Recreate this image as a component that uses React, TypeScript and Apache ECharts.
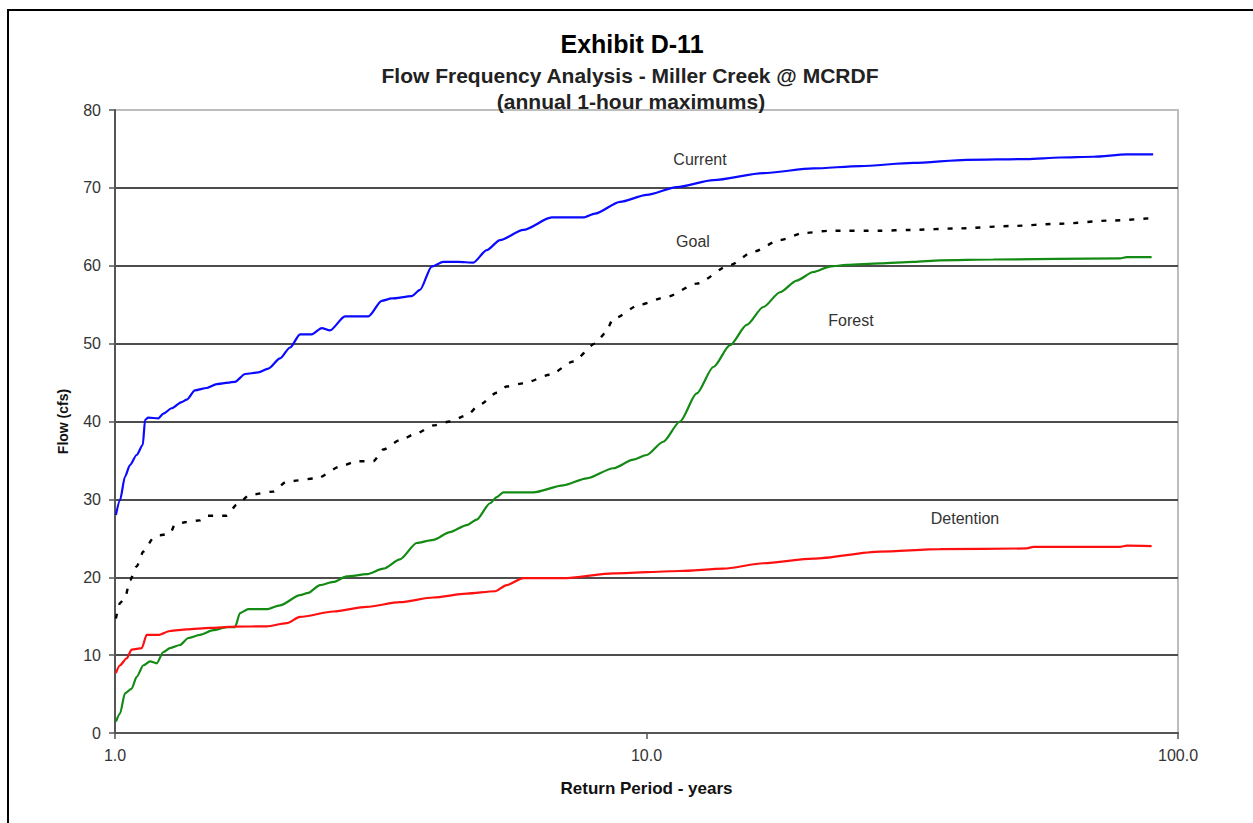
import React, { useEffect, useRef } from "react";
import * as echarts from "echarts";

// Return period (years), flow (cfs)
const currentData: [number, number][] = [
  [1.004, 28.0], [1.022, 29.9], [1.044, 32.9], [1.067, 34.4], [1.098, 35.7], [1.128, 37.0],
  [1.139, 40.2], [1.155, 40.5], [1.206, 40.4], [1.233, 41.0], [1.278, 41.7], [1.335, 42.5],
  [1.364, 42.8], [1.414, 44.0], [1.488, 44.3], [1.554, 44.8], [1.682, 45.1], [1.757, 46.1],
  [1.861, 46.3], [1.943, 46.8], [2.044, 48.1], [2.135, 49.5], [2.229, 51.2], [2.345, 51.2],
  [2.449, 52.0], [2.538, 51.7], [2.708, 53.5], [2.997, 53.5], [3.176, 55.5], [3.316, 55.8],
  [3.616, 56.1], [3.748, 56.9], [3.943, 59.9], [4.146, 60.5], [4.425, 60.5], [4.722, 60.4],
  [5.004, 62.0], [5.301, 63.3], [5.866, 64.6], [6.632, 66.2], [7.075, 66.2], [7.605, 66.2],
  [8.0, 66.7], [8.916, 68.2], [10.01, 69.1], [11.4, 70.1], [13.36, 71.0], [16.59, 71.9],
  [20.6, 72.5], [25.22, 72.8], [31.76, 73.2], [40.04, 73.6], [51.92, 73.7], [59.98, 73.9],
  [69.29, 74.0], [80.08, 74.3], [89.8, 74.3],
];

const goalData: [number, number][] = [
  [1.004, 14.7], [1.022, 16.7], [1.044, 17.3], [1.067, 19.6], [1.098, 21.4], [1.131, 23.3],
  [1.18, 25.0], [1.215, 25.4], [1.269, 25.6], [1.297, 26.8], [1.364, 27.1], [1.445, 27.3],
  [1.488, 27.9], [1.622, 27.9], [1.694, 29.3], [1.795, 30.6], [1.986, 31.0], [2.104, 32.3],
  [2.396, 32.7], [2.651, 34.2], [2.849, 34.9], [3.062, 34.9], [3.197, 36.4], [3.437, 37.6],
  [3.695, 38.5], [3.97, 39.5], [4.268, 40.0], [4.589, 40.8], [4.861, 42.2], [5.226, 43.7],
  [5.457, 44.5], [5.866, 44.9], [6.582, 46.0], [7.281, 47.7], [8.0, 50.0], [8.355, 51.3],
  [8.662, 53.2], [9.723, 55.0], [10.91, 56.0], [12.43, 57.7], [14.36, 60.1], [15.88, 61.8],
  [17.83, 63.3], [19.73, 64.2], [22.14, 64.5], [27.5, 64.5], [31.31, 64.6], [38.89, 64.8],
  [48.31, 65.1], [59.98, 65.4], [74.48, 65.8], [88.6, 66.1],
];

const forestData: [number, number][] = [
  [1.004, 1.45], [1.022, 2.5], [1.044, 5.1], [1.075, 5.7], [1.098, 7.2], [1.131, 8.7],
  [1.164, 9.2], [1.198, 8.95], [1.233, 10.4], [1.269, 10.9], [1.325, 11.3], [1.374, 12.2],
  [1.445, 12.6], [1.531, 13.2], [1.622, 13.6], [1.682, 13.6], [1.719, 15.4], [1.781, 15.9],
  [1.929, 15.9], [2.044, 16.4], [2.229, 17.7], [2.31, 18.0], [2.431, 19.0], [2.575, 19.4],
  [2.729, 20.1], [2.976, 20.4], [3.197, 21.1], [3.437, 22.3], [3.695, 24.4], [3.97, 24.8],
  [4.268, 25.8], [4.589, 26.7], [4.792, 27.4], [5.077, 29.5], [5.226, 30.3], [5.377, 30.9],
  [6.125, 30.9], [6.973, 31.8], [7.716, 32.7], [8.662, 34.0], [9.446, 35.1], [10.01, 35.7],
  [10.75, 37.4], [11.56, 40.0], [12.43, 43.6], [13.36, 47.0], [14.36, 49.8], [15.44, 52.4],
  [16.59, 54.7], [17.83, 56.6], [19.17, 58.1], [20.6, 59.2], [22.14, 59.9], [23.8, 60.1],
  [27.5, 60.3], [31.76, 60.5], [35.67, 60.7], [44.93, 60.8], [77.77, 60.95], [80.08, 61.1],
  [89.2, 61.1],
];

const detentionData: [number, number][] = [
  [1.004, 7.7], [1.022, 8.7], [1.052, 9.6], [1.075, 10.7], [1.123, 10.9], [1.147, 12.6],
  [1.206, 12.6], [1.269, 13.1], [1.364, 13.3], [1.509, 13.5], [1.67, 13.65], [1.929, 13.7],
  [2.104, 14.1], [2.229, 14.9], [2.575, 15.6], [2.976, 16.2], [3.437, 16.8], [3.97, 17.4],
  [4.589, 17.9], [5.188, 18.2], [5.457, 19.0], [5.866, 19.9], [7.075, 19.9], [8.662, 20.5],
  [11.56, 20.8], [13.95, 21.1], [16.59, 21.8], [20.6, 22.4], [27.5, 23.3], [35.67, 23.6],
  [51.92, 23.7], [53.43, 23.9], [77.77, 23.9], [80.08, 24.05], [89.2, 24.0],
];

const titleText = "Exhibit D-11";
const subtitle1 = "Flow Frequency Analysis - Miller Creek @ MCRDF";
const subtitle2 = "(annual 1-hour maximums)";
const xAxisName = "Return Period - years";
const yAxisName = "Flow (cfs)";
const curveLabels = ["Current", "Goal", "Forest", "Detention"];

const FONT = "Arial, 'Liberation Sans', Helvetica, sans-serif";

export default function App() {
  const ref = useRef<HTMLDivElement>(null);

  useEffect(() => {
    if (!ref.current) return;
    const chart = echarts.init(ref.current, null, { renderer: "svg" });
    const lineBase = {
      type: "line" as const,
      showSymbol: false,
      symbol: "none",
      smooth: 0.25,
      smoothMonotone: "x" as const,
      silent: true,
    };
    const labelStyle = (text: string) => ({
      text,
      font: `16px ${FONT}`,
      fill: "#333",
      align: "center",
      verticalAlign: "middle",
    });
    chart.setOption({
      animation: false,
      backgroundColor: "#ffffff",
      textStyle: { fontFamily: FONT },
      title: [
        {
          text: titleText,
          left: 627,
          top: 26,
          textAlign: "center",
          textStyle: { fontFamily: FONT, fontSize: 25, fontWeight: "bold", color: "#000" },
        },
        {
          text: subtitle1,
          left: 625,
          top: 60,
          textAlign: "center",
          textStyle: { fontFamily: FONT, fontSize: 21, fontWeight: "bold", color: "#222" },
        },
        {
          text: subtitle2,
          left: 626,
          top: 86,
          textAlign: "center",
          textStyle: { fontFamily: FONT, fontSize: 21, fontWeight: "bold", color: "#222" },
        },
      ],
      grid: {
        left: 115,
        right: 75,
        top: 110,
        bottom: 90,
        show: true,
        borderColor: "#bdbdbd",
        borderWidth: 2,
        backgroundColor: "transparent",
      },
      xAxis: {
        type: "log",
        logBase: 10,
        min: 1,
        max: 100,
        name: xAxisName,
        nameLocation: "middle",
        nameGap: 47,
        nameTextStyle: { fontFamily: FONT, fontSize: 17, fontWeight: "bold", color: "#111" },
        axisLine: { show: true, lineStyle: { color: "#555", width: 2 } },
        axisTick: { show: true, length: 6, lineStyle: { color: "#555", width: 1.5 } },
        axisLabel: {
          fontFamily: FONT,
          fontSize: 16,
          color: "#333",
          margin: 14,
          formatter: (v: number) => v.toFixed(1),
        },
        splitLine: { show: false },
        minorTick: { show: false },
      },
      yAxis: {
        type: "value",
        min: 0,
        max: 80,
        interval: 10,
        name: yAxisName,
        nameLocation: "middle",
        nameGap: 45,
        nameRotate: 90,
        nameTextStyle: { fontFamily: FONT, fontSize: 14, fontWeight: "bold", color: "#111" },
        axisLine: { show: true, lineStyle: { color: "#555", width: 2 } },
        axisTick: { show: true, length: 6, lineStyle: { color: "#555", width: 1.5 } },
        axisLabel: { fontFamily: FONT, fontSize: 16, color: "#333", margin: 14 },
        splitLine: {
          show: true,
          showMinLine: false,
          showMaxLine: false,
          lineStyle: { color: "#4d4d4d", width: 2 },
        },
      },
      series: [
        { ...lineBase, name: curveLabels[0], data: currentData, lineStyle: { color: "#0a0aff", width: 2.2 } },
        {
          ...lineBase,
          name: curveLabels[1],
          data: goalData,
          lineStyle: { color: "#000", width: 2.4, type: [5, 9] },
        },
        { ...lineBase, name: curveLabels[2], data: forestData, lineStyle: { color: "#138a13", width: 2.2 } },
        { ...lineBase, name: curveLabels[3], data: detentionData, lineStyle: { color: "#ff1010", width: 2.2 } },
      ],
      graphic: [
        {
          type: "rect",
          silent: true,
          shape: { x: 8, y: 10, width: 1400, height: 1000 },
          style: { fill: "transparent", stroke: "#000", lineWidth: 2 },
          z: 100,
        },
        { type: "text", x: 700, y: 159, style: labelStyle(curveLabels[0]) },
        { type: "text", x: 693, y: 241, style: labelStyle(curveLabels[1]) },
        { type: "text", x: 851, y: 320, style: labelStyle(curveLabels[2]) },
        { type: "text", x: 965, y: 518, style: labelStyle(curveLabels[3]) },
      ],
    });
    return () => chart.dispose();
  }, []);

  return (
    <div
      ref={ref}
      style={{ position: "absolute", left: 0, top: 0, width: 1253, height: 823, background: "#fff" }}
    />
  );
}
